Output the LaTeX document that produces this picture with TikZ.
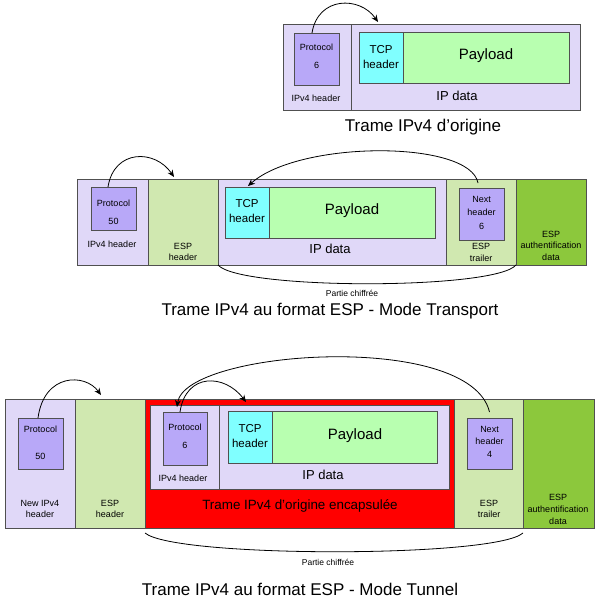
\documentclass[tikz,border=0pt]{standalone}
\usepackage{fontspec}
\setmainfont{Liberation Sans}
\usetikzlibrary{arrows.meta}
\definecolor{lav}{HTML}{E0D8F8}
\definecolor{purp}{HTML}{B8A8F8}
\definecolor{tcpc}{HTML}{80FFFF}
\definecolor{payc}{HTML}{B8FFB0}
\definecolor{esphc}{HTML}{D0E8B0}
\definecolor{authc}{HTML}{8CC83C}
\definecolor{bordc}{HTML}{505050}
\newcommand{\mkbox}[6]{\node[#6, minimum width={(#4-#2)*1pt}, minimum height={(#5-#3)*1pt}] (#1) at ({(#2+#4)/2},{(#3+#5)/2}) {};}
\newcommand{\apos}{\char39\relax}
\begin{document}
\begin{tikzpicture}[x=1pt,y=-1pt,
 cell/.style={draw=bordc, line width=0.8pt, inner sep=0, outer sep=0},
 lbl/.style={inner sep=0, align=center, font=\fontsize{9}{10.5}\selectfont},
 midtxt/.style={inner sep=0, align=center, font=\fontsize{11.5}{15}\selectfont},
 bigtxt/.style={inner sep=0, font=\fontsize{15}{18}\selectfont},
 ipd/.style={inner sep=0, font=\fontsize{13}{15}\selectfont},
 ttl/.style={inner sep=0, font=\fontsize{17}{20}\selectfont},
 arr/.style={line width=0.8pt, -{Stealth[length=7pt,width=6pt]}},
 brace/.style={line width=0.8pt}]
\useasboundingbox[fill=white] (0,0) rectangle (600,600);
% ---------- top ----------
\mkbox{hdr1}{283}{24}{351}{110}{cell,fill=lav}
\mkbox{data1}{351}{24}{580}{110}{cell,fill=lav}
\mkbox{proto1}{294}{33}{339}{85}{cell,fill=purp}
\mkbox{tcp1}{359}{32}{403}{83}{cell,fill=tcpc}
\mkbox{pay1}{403}{32}{569}{83}{cell,fill=payc}
\node[lbl, font=\fontsize{9}{18}\selectfont] (p1t) at (316.5,56) {Protocol\\6};
\node[lbl] (h1t) at (316,98) {IPv4 header};
\node[midtxt] (t1t) at (381,57.5) {TCP\\header};
\node[bigtxt] (pl1) at (486,56) {Payload};
\node[ipd] (ip1) at (457,96) {IP data};
\node[ttl] (tt1) at (423,127) {Trame IPv4 d\apos origine};
\draw[arr] ([xshift=-4.5pt]proto1.north) .. controls (318,-4) and (360,-4) .. ([xshift=27pt,yshift=2pt]data1.north west);
% ---------- middle ----------
\mkbox{hdr2}{77}{179}{148}{265}{cell,fill=lav}
\mkbox{esph2}{148}{179}{218}{265}{cell,fill=esphc}
\mkbox{data2}{218}{179}{446}{265}{cell,fill=lav}
\mkbox{trl2}{446}{179}{516}{265}{cell,fill=esphc}
\mkbox{auth2}{516}{179}{586}{265}{cell,fill=authc}
\mkbox{proto2}{91}{187}{136}{230}{cell,fill=purp}
\mkbox{tcp2}{225}{187}{269}{238}{cell,fill=tcpc}
\mkbox{pay2}{269}{187}{435}{238}{cell,fill=payc}
\mkbox{next2}{459}{188}{504}{240}{cell,fill=purp}
\node[lbl, font=\fontsize{9}{18}\selectfont] (p2t) at (113.5,212) {Protocol\\50};
\node[lbl] (h2t) at (112,244) {IPv4 header};
\node[lbl] (e2t) at (183,252) {ESP\\header};
\node[midtxt] (t2t) at (247,211.5) {TCP\\header};
\node[bigtxt] (pl2) at (352,211) {Payload};
\node[ipd] (ip2) at (330,249) {IP data};
\node[lbl, font=\fontsize{9}{13.5}\selectfont] (n2t) at (481.5,212.5) {Next\\header\\6};
\node[lbl, font=\fontsize{9}{12}\selectfont] (tr2) at (481,252) {ESP\\trailer};
\node[lbl, font=\fontsize{9}{11.5}\selectfont] (au2) at (551,245.5) {ESP\\authentification\\data};
\draw[brace] (data2.south west) .. controls (240,290) and (495,290) .. (trl2.south east);
\node[lbl, font=\fontsize{8.5}{10}\selectfont] (pc2) at (352,293) {Partie chiffrée};
\node[ttl] (tt2) at (330,311) {Trame IPv4 au format ESP - Mode Transport};
\draw[arr] ([xshift=-5.5pt]proto2.north) .. controls (114,149) and (155,149) .. ([xshift=-9pt,yshift=2pt]esph2.north);
\draw[arr] ([xshift=-3.5pt,yshift=5pt]next2.north) .. controls (470,140) and (300,140) .. ([xshift=1pt,yshift=1pt]tcp2.north);
% ---------- bottom ----------
\mkbox{hdr3}{5}{399}{75}{528}{cell,fill=lav}
\mkbox{esph3}{75}{399}{145}{528}{cell,fill=esphc}
\mkbox{red3}{145}{399}{454}{528}{cell,fill=red}
\mkbox{trl3}{454}{399}{523}{528}{cell,fill=esphc}
\mkbox{auth3}{523}{399}{594}{528}{cell,fill=authc}
\mkbox{ihdr3}{150}{405}{219}{489}{cell,fill=lav}
\mkbox{idata3}{219}{405}{449}{489}{cell,fill=lav}
\mkbox{proto3}{18}{418}{63}{469}{cell,fill=purp}
\mkbox{iproto3}{163}{412}{207}{465}{cell,fill=purp}
\mkbox{tcp3}{228}{411}{272}{463}{cell,fill=tcpc}
\mkbox{pay3}{272}{411}{437}{463}{cell,fill=payc}
\mkbox{next3}{467}{418}{512}{469}{cell,fill=purp}
\node[lbl, font=\fontsize{9}{27}\selectfont] (p3t) at (40.5,442.5) {Protocol\\50};
\node[lbl, font=\fontsize{9}{11}\selectfont] (h3t) at (40,508.5) {New IPv4\\header};
\node[lbl, font=\fontsize{9}{11}\selectfont] (e3t) at (110,508.5) {ESP\\header};
\node[lbl, font=\fontsize{9}{18}\selectfont] (ip3p) at (185,436) {Protocol\\6};
\node[lbl] (ih3) at (183,478) {IPv4 header};
\node[midtxt] (t3t) at (250,436.5) {TCP\\header};
\node[bigtxt] (pl3) at (355,436) {Payload};
\node[ipd] (ipd3) at (323,475) {IP data};
\node[inner sep=0, font=\fontsize{13.4}{16}\selectfont] (enc) at (300,506) {Trame IPv4 d\apos origine encapsulée};
\node[lbl, font=\fontsize{9}{12.5}\selectfont] (n3t) at (489.5,441.5) {Next\\header\\4};
\node[lbl, font=\fontsize{9}{11}\selectfont] (tr3) at (489,508.5) {ESP\\trailer};
\node[lbl, font=\fontsize{9}{12}\selectfont] (au3) at (558,509) {ESP\\authentification\\data};
\draw[brace] ([yshift=-5pt]red3.south west) .. controls (175,558) and (495,558) .. ([yshift=-5pt]trl3.south east);
\node[lbl, font=\fontsize{8.5}{10}\selectfont] (pc3) at (328,562) {Partie chiffrée};
\node[ttl] (tt3) at (300,589) {Trame IPv4 au format ESP - Mode Tunnel};
\draw[arr] ([xshift=-2.5pt]proto3.north) .. controls (44,373) and (85,373) .. ([xshift=-9pt,yshift=4pt]esph3.north);
\draw[arr] ([xshift=-5pt]iproto3.north) .. controls (186,372) and (225,374) .. ([xshift=-4pt,yshift=9pt]tcp3.north);
\draw[arr] ([yshift=6pt]next3.north) .. controls (470,330) and (185,350) .. ([xshift=-8pt,yshift=5pt]iproto3.north);
\end{tikzpicture}
\end{document}
